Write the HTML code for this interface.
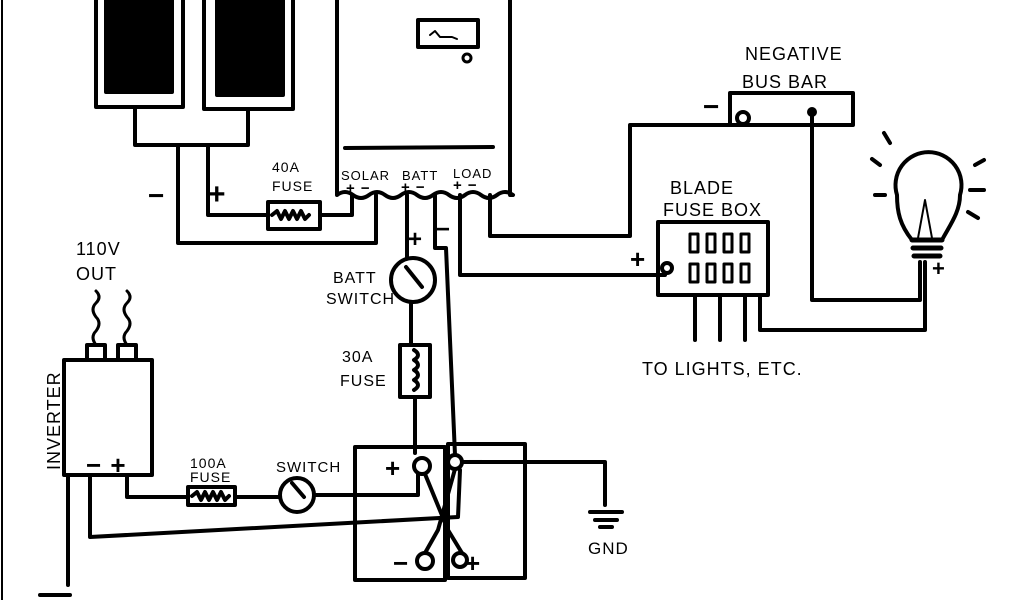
<!DOCTYPE html>
<html><head><style>body{margin:0;background:#fff}svg{display:block}
text{font-family:"Liberation Sans",sans-serif;fill:#000;letter-spacing:1px}</style></head>
<body>
<svg width="1024" height="600" viewBox="0 0 1024 600" xmlns="http://www.w3.org/2000/svg">
<g fill="none" stroke="#000" stroke-width="4" stroke-linejoin="round" stroke-linecap="round">
<line x1="2" y1="0" x2="2" y2="600" stroke-width="2"/>
<rect x="96" y="-5" width="87" height="112"/>
<rect x="106" y="-5" width="66" height="97" fill="#000"/>
<rect x="204" y="-5" width="89" height="114"/>
<rect x="217" y="-5" width="66" height="100" fill="#000"/>
<path d="M135 108 V145 H248 V110"/>
<path d="M178 145 V243 H376 V195"/>
<path d="M208 145 V215 H268 M320 215 H352 V195"/>
<rect x="268" y="202" width="52" height="27"/>
<path d="M272 215 l5 -4 4 8 4 -8 4 8 4 -8 4 8 4 -8 4 8 4-4"/>
<path d="M337 -5 V195 q8 -6 16 0 q8 6 16 0 q8 -6 16 0 q8 6 16 0 q8 -6 16 0 q8 6 16 0 q8 -6 16 0 q8 6 16 0 q8 -6 16 0 q8 6 16 0 q8 -6 16 0 H510 V-5"/>
<line x1="345" y1="148" x2="493" y2="147"/>
<rect x="418" y="20" width="60" height="27"/>
<path d="M430 35 l5 -4 5 6 h12 l5 2" stroke-width="2"/>
<circle cx="467" cy="58" r="4" stroke-width="3"/>
<path d="M407 195 V258"/>
<circle cx="413" cy="280" r="22"/>
<path d="M406 267 L422 287"/>
<path d="M411 302 V345"/>
<rect x="400" y="345" width="30" height="52"/>
<path d="M414 350 q8 5 0 10 q8 5 0 10 q8 5 0 10 q8 5 0 10"/>
<path d="M415 397 V453"/>
<path d="M435 195 V248 H446 L455 455"/>
<path d="M460 195 V275 H665"/>
<path d="M490 195 V236 H630 V125 H740"/>
<rect x="730" y="93" width="123" height="32"/>
<circle cx="743" cy="118" r="6"/>
<path d="M812 112 V300 H920 V262"/>
<circle cx="812" cy="112" r="3"/>
<rect x="658" y="222" width="110" height="73"/>
<circle cx="667" cy="268" r="5"/>
<g stroke-width="3">
<rect x="690" y="234" width="8" height="18"/><rect x="707" y="234" width="8" height="18"/><rect x="724" y="234" width="8" height="18"/><rect x="741" y="234" width="8" height="18"/>
<rect x="690" y="264" width="8" height="18"/><rect x="707" y="264" width="8" height="18"/><rect x="724" y="264" width="8" height="18"/><rect x="741" y="264" width="8" height="18"/>
</g>
<path d="M695 295 V340 M720 295 V340 M745 295 V340"/>
<path d="M760 295 V330 H925 V262"/>
<path d="M912 240 C900 225 897 212 897 195 A33 33 0 1 1 960 195 C960 212 950 225 942 240 Z"/>
<path d="M912 240 h30 M913 248 h28 M914 256 h26" stroke-width="5"/>
<path d="M918 238 L925 200 L932 238" stroke-width="2"/>
<path d="M880 165 l-8 -6 M890 143 l-6 -10 M975 165 l9 -5 M970 190 h14 M968 212 l10 6 M885 195 h-10"/>
<rect x="64" y="360" width="88" height="115"/>
<rect x="87" y="345" width="18" height="15"/><rect x="118" y="345" width="18" height="15"/>
<path d="M96 345 q-6 -8 0 -14 q6 -8 0 -14 q-6 -8 0 -14 q6 -6 0 -12" stroke-width="3"/>
<path d="M127 345 q-6 -8 0 -14 q6 -8 0 -14 q-6 -8 0 -14 q6 -6 0 -12" stroke-width="3"/>
<path d="M68 475 V585"/>
<path d="M40 595 h30"/>
<path d="M127 475 V497 H188 M235 497 H280"/>
<rect x="188" y="487" width="47" height="18"/>
<path d="M192 496 l5 -4 4 8 4 -8 4 8 4 -8 4 8 4 -8 4 8 4-4"/>
<circle cx="297" cy="495" r="17"/>
<path d="M292 483 L304 497"/>
<path d="M314 495 H418 V470"/>
<path d="M90 475 V537 L458 517 L460 470"/>
<rect x="355" y="447" width="90" height="133"/>
<rect x="448" y="444" width="77" height="134"/>
<circle cx="422" cy="466" r="8" fill="#fff"/>
<circle cx="455" cy="462" r="7" fill="#fff"/>
<circle cx="425" cy="561" r="8" fill="#fff"/>
<circle cx="460" cy="560" r="7" fill="#fff"/>
<path d="M425 474 L448 530 L462 553"/>
<path d="M455 469 L438 530 L425 553"/>
<path d="M462 462 H605 V505"/>
<path d="M590 512 h32 M595 520 h22 M600 527 h12"/>
</g>
<g>
<text x="341" y="180" font-size="13" letter-spacing="0">SOLAR</text>
<text x="402" y="180" font-size="13" letter-spacing="0">BATT</text>
<text x="453" y="178" font-size="13" letter-spacing="0">LOAD</text>
<text x="346" y="193" font-size="15" font-weight="bold">+ −</text>
<text x="401" y="192" font-size="15" font-weight="bold">+ −</text>
<text x="453" y="190" font-size="15" font-weight="bold">+ −</text>
<text x="272" y="172" font-size="14">40A</text>
<text x="272" y="191" font-size="14">FUSE</text>
<text x="148" y="205" font-size="28" font-weight="bold">−</text>
<text x="208" y="204" font-size="30" font-weight="bold">+</text>
<text x="408" y="247" font-size="24" font-weight="bold">+</text>
<text x="436" y="237" font-size="24" font-weight="bold">−</text>
<text x="333" y="283" font-size="16">BATT</text>
<text x="326" y="304" font-size="16">SWITCH</text>
<text x="342" y="362" font-size="16">30A</text>
<text x="340" y="386" font-size="16">FUSE</text>
<text x="745" y="60" font-size="18">NEGATIVE</text>
<text x="742" y="88" font-size="18">BUS BAR</text>
<text x="703" y="116" font-size="28" font-weight="bold">−</text>
<text x="670" y="194" font-size="18">BLADE</text>
<text x="663" y="216" font-size="18">FUSE BOX</text>
<text x="630" y="268" font-size="26" font-weight="bold">+</text>
<text x="932" y="276" font-size="22" font-weight="bold">+</text>
<text x="642" y="375" font-size="18">TO LIGHTS, ETC.</text>
<text x="76" y="255" font-size="18">110V</text>
<text x="76" y="280" font-size="18">OUT</text>
<text x="60" y="470" font-size="18" transform="rotate(-90 60 470)">INVERTER</text>
<text x="86" y="474" font-size="26" font-weight="bold">− +</text>
<text x="190" y="468" font-size="14">100A</text>
<text x="190" y="482" font-size="14">FUSE</text>
<text x="276" y="472" font-size="15">SWITCH</text>
<text x="385" y="477" font-size="26" font-weight="bold">+</text>
<text x="468" y="470" font-size="26" font-weight="bold">−</text>
<text x="393" y="572" font-size="26" font-weight="bold">−</text>
<text x="465" y="572" font-size="26" font-weight="bold">+</text>
<text x="588" y="554" font-size="17">GND</text>
</g>
</svg>
</body></html>
